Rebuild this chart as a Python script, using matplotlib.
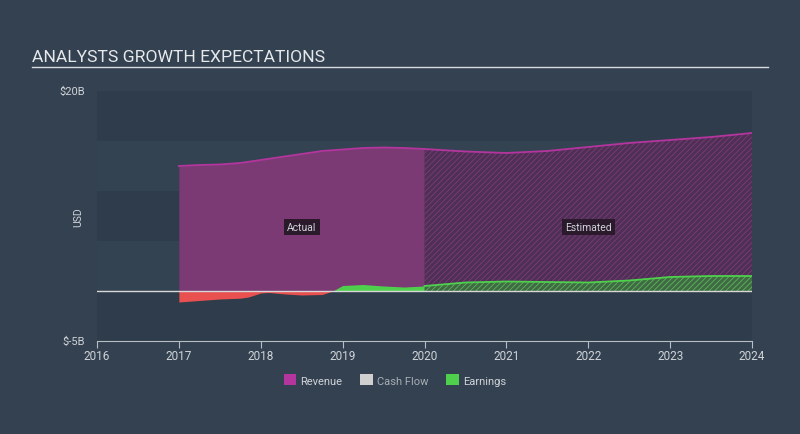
import matplotlib

matplotlib.use("Agg")
import matplotlib.pyplot as plt
import numpy as np

plt.rcParams["hatch.linewidth"] = 0.6
plt.rcParams["font.family"] = ["Roboto", "DejaVu Sans"]

# actual values (USD billions)
actual_years = [2017.0, 2017.25, 2017.5, 2017.75, 2018.0, 2018.25, 2018.5, 2018.75,
                2019.0, 2019.25, 2019.5, 2019.75, 2020.0]
actual_revenue = [12.5, 12.6, 12.65, 12.8, 13.1, 13.4, 13.7, 14.0, 14.15, 14.3, 14.35, 14.3, 14.2]

earn_years = [2017.0, 2017.25, 2017.5, 2017.75, 2017.85, 2018.0, 2018.1, 2018.3, 2018.5,
              2018.75, 2018.88, 2019.0, 2019.25, 2019.5, 2019.75, 2020.0]
actual_earnings = [-1.1, -0.95, -0.8, -0.72, -0.6, -0.2, -0.15, -0.3, -0.4, -0.35, 0.0,
                   0.55, 0.65, 0.5, 0.4, 0.5]

# analyst estimates
est_years = [2020.0, 2020.5, 2021.0, 2021.5, 2022.0, 2022.5, 2023.0, 2023.5, 2024.0]
est_revenue = [14.2, 13.95, 13.8, 14.0, 14.4, 14.8, 15.1, 15.4, 15.8]
est_earnings = [0.5, 0.85, 0.95, 0.9, 0.85, 1.05, 1.4, 1.5, 1.5]

x_ticks = list(range(2016, 2025))
legend_names = ["Revenue", "Cash Flow", "Earnings"]

BG = "#334150"
PURPLE = "#7b3a74"
PURPLE_LINE = "#b5359f"
GREEN = "#4fd04c"
RED = "#e8514f"
TEXT = "#d0d4d9"

fig = plt.figure(figsize=(8, 4.35), dpi=100, facecolor=BG)
ax = fig.add_axes([97 / 800, 1 - 342 / 435, 655 / 800, 250 / 435])
ax.set_facecolor("#2f3c4b")
ax.set_xlim(2016, 2024)
ax.set_ylim(-5, 20)

# alternating horizontal bands
for lo, hi in [(10, 15), (0, 5)]:
    ax.axhspan(lo, hi, color="#344352", lw=0, zorder=0)

# actual
ax.fill_between(actual_years, 0, actual_revenue, color=PURPLE, lw=0, zorder=1)
ax.plot(actual_years, actual_revenue, color=PURPLE_LINE, lw=1.3, zorder=3)
ey = np.array(earn_years)
ee = np.array(actual_earnings)
ax.fill_between(ey, 0, ee, where=ee >= 0, interpolate=True, color=GREEN, lw=0, zorder=2)
ax.fill_between(ey, 0, ee, where=ee <= 0, interpolate=True, color=RED, lw=0, zorder=2)

# estimated (hatched)
ax.fill_between(est_years, 0, est_revenue, facecolor="#4e2f55", edgecolor="#7e3b77",
                hatch="//////", lw=0, zorder=1)
ax.plot(est_years, est_revenue, color=PURPLE_LINE, lw=1.3, zorder=3)
ax.fill_between(est_years, 0, est_earnings, facecolor="#3f6a45", edgecolor="#5cb856",
                hatch="//////", lw=0, zorder=2)
ax.plot(est_years, est_earnings, color=GREEN, lw=1.3, zorder=3)

ax.axhline(0, color="#d8d8d8", lw=1.0, zorder=4)

ax.text(2018.5, 6.4, "Actual", color=TEXT, fontsize=7.5, ha="center", va="center", zorder=5,
        bbox=dict(boxstyle="square,pad=0.3", fc="#2a1a2c", ec="none"))
ax.text(2022.0, 6.4, "Estimated", color=TEXT, fontsize=7.5, ha="center", va="center", zorder=5,
        bbox=dict(boxstyle="square,pad=0.3", fc="#2a1a2c", ec="none"))

for side in ["top", "right", "left"]:
    ax.spines[side].set_visible(False)
ax.spines["bottom"].set_color("#b8bec6")
ax.set_xticks(x_ticks)
ax.set_xticklabels([str(t) for t in x_ticks])
ax.tick_params(axis="x", colors="#b8bec6", labelcolor=TEXT, labelsize=8.5, length=5, pad=1)
ax.set_yticks([])

ax.text(-0.018, 1.0, "$20B", transform=ax.transAxes, ha="right", va="center", color=TEXT, fontsize=8)
ax.text(-0.018, 0.0, "$-5B", transform=ax.transAxes, ha="right", va="center", color=TEXT, fontsize=8)
ax.text(-0.028, 0.5, "USD", transform=ax.transAxes, ha="center", va="center", color=TEXT,
        fontsize=7.5, rotation=90)

fig.text(32 / 800, 1 - 57 / 435, "ANALYSTS GROWTH EXPECTATIONS", color="#e6e9ec", fontsize=12.6,
         ha="left", va="center")
fig.add_artist(plt.Line2D([32 / 800, 768 / 800], [1 - 68 / 435, 1 - 68 / 435],
                          color="#d8dbe0", lw=1.0))

# legend
handles = [plt.Rectangle((0, 0), 1, 1, fc=c, ec="none") for c in [PURPLE_LINE, "#cfcfcf", GREEN]]
leg = fig.legend(handles, legend_names, loc="center", bbox_to_anchor=(395 / 800, 1 - 381 / 435),
                 ncol=3, frameon=False, fontsize=8, handlelength=1.1, handleheight=1.1,
                 handletextpad=0.4, columnspacing=1.6)
for t, c in zip(leg.get_texts(), [TEXT, "#a8aeb6", TEXT]):
    t.set_color(c)

fig.savefig("out.png", dpi=100, facecolor=BG)
